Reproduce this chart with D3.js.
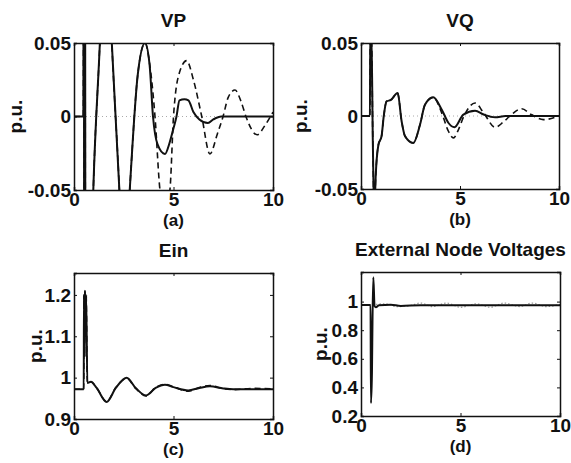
<!DOCTYPE html>
<html lang="en">
<head>
<meta charset="UTF-8">
<title>VP VQ Ein External Node Voltages</title>
<script src="https://d3js.org/d3.v7.min.js"></script>
<style>
  body { margin: 0; background: #fff; }
  text { font-family: "Liberation Sans", Arial, sans-serif; font-weight: bold; fill: #111; }
</style>
</head>
<body>
<script>
// ---- data (time in s, values in p.u.) ----
var xTicks = [0, 5, 10];

// VP: shared start of both traces, then the two endings
var vpStart = [[0,0],[0.47,0],[0.49,0.25],[0.52,-0.25],[0.55,0.25],[0.58,-0.25],[0.7,-0.2],[0.97,-0.05],
  [1.3,0.05],[1.6,0.15],[1.9,0.05],[2.28,-0.05],[2.5,-0.12],[2.8,-0.05],[3.2,0.028],[3.57,0.05]];
var vpSolidEnd = [[3.8,0.035],[3.97,0],[4.2,-0.019],[4.57,-0.0255],[4.8,-0.018],[5.0,-0.008],[5.15,0],
  [5.3,0.011],[5.55,0.0118],[5.75,0.011],[6.0,0.003],[6.3,-0.002],[6.73,-0.0044],[7.0,-0.002],[7.4,0],[10,0]];
var vpDashEnd = [[3.8,0.036],[4.07,0],[4.32,-0.05],[4.57,-0.065],[4.82,-0.05],[5.0,0],[5.3,0.03],[5.66,0.038],
  [6.0,0.025],[6.42,0],[6.83,-0.0255],[7.2,-0.012],[7.49,0],[7.75,0.013],[8.09,0.018],[8.4,0.01],[8.64,0],
  [9.2,-0.0124],[9.6,-0.006],[10,0.003]];

// VQ
var vqStart = [[0,0],[0.45,0],[0.47,0.06],[0.52,0.06],[0.6,-0.02],[0.67,-0.07],[0.72,-0.05],[0.74,-0.042],
  [0.88,-0.0197],[1.04,-0.0137],[1.15,0],[1.29,0.01],[1.51,0.011],[1.85,0.0157],[2.05,-0.0034],[2.22,-0.0137],
  [2.64,-0.0185],[2.98,-0.006],[3.23,0.0077],[3.65,0.0128]];
var vqSolidEnd = [[4.08,0.0043],[4.42,-0.0048],[4.72,-0.0077],[5.17,0.001],[5.76,0.0036],[6.2,0.001],
  [6.77,-0.0009],[7.3,0],[10,0]];
var vqDashEnd = [[4.08,0.002],[4.4,-0.01],[4.67,-0.015],[4.9,-0.01],[5.2,0],[5.76,0.0089],[6.2,0.002],
  [6.77,-0.0077],[7.2,-0.004],[7.6,0.001],[8.12,0.005],[8.6,0.001],[9.21,-0.0025],[10,0]];

// Ein
var einSolid = [[0,0.972],[0.49,0.972],[0.5,1.2],[0.53,1.05],[0.55,1.21],[0.58,1.1],[0.61,1.2],[0.67,0.987],
  [0.85,0.99],[1.14,0.975],[1.64,0.941],[2.1,0.975],[2.65,0.9995],[3.1,0.975],[3.62,0.957],[4.1,0.975],
  [4.57,0.983],[5.0,0.977],[5.74,0.969],[6.3,0.975],[6.83,0.979],[7.5,0.974],[8,0.972],[10,0.972]];
var einDash = [[0,0.972],[0.49,0.972],[0.5,1.2],[0.53,1.05],[0.55,1.21],[0.58,1.1],[0.61,1.2],[0.67,0.987],
  [0.85,0.99],[1.14,0.975],[1.64,0.942],[2.1,0.976],[2.65,0.998],[3.1,0.974],[3.62,0.956],[4.1,0.976],
  [4.57,0.984],[5.0,0.978],[5.74,0.967],[6.3,0.976],[6.83,0.981],[7.5,0.973],[8,0.971],[9,0.974],[10,0.973]];

// External node voltages
var envMain = [[0,0.976],[0.48,0.976],[0.5,0.29],[0.55,0.5],[0.58,0.9],[0.62,1.17],[0.68,0.97],[0.75,0.96],
  [0.9,0.975],[1.5,0.978],[2,0.97],[3,0.975],[10,0.975]];
var envOther = [[0.75,0.98],[1.2,0.985],[1.8,0.965],[2.4,0.97],[3,0.99],[3.6,0.965],[4.3,0.99],[5,0.96],
  [5.8,0.985],[6.5,0.96],[7.2,0.99],[8,0.965],[8.6,0.99],[9.3,0.965],[10,0.98]];

var vTicks = [-0.05, 0, 0.05];
var einTicks = [0.9, 1, 1.1, 1.2];
var envTicks = [0.2, 0.4, 0.6, 0.8, 1];

// ---- drawing ----
var svg = d3.select("body").append("svg").attr("width", 571).attr("height", 463);

// matlab style labels: plain hyphen, no trailing zeros
var fmt = d => String(+d.toFixed(2));

var panels = [
  {id: "a", title: "VP", x0: 74, x1: 273, y0: 43, y1: 190, yDom: [-0.05, 0.05], yTicks: vTicks,
   zero: true, ylabX: 15,
   lines: [{d: vpStart.concat(vpDashEnd), dash: "6,4", w: 1.6}, {d: vpStart.concat(vpSolidEnd), w: 2}]},
  {id: "b", title: "VQ", x0: 361, x1: 559, y0: 43, y1: 189, yDom: [-0.05, 0.05], yTicks: vTicks,
   zero: true, ylabX: 300,
   lines: [{d: vqStart.concat(vqDashEnd), dash: "6,4", w: 1.6}, {d: vqStart.concat(vqSolidEnd), w: 2}]},
  {id: "c", title: "Ein", x0: 74, x1: 273, y0: 273, y1: 419, yDom: [0.9, 1.253], yTicks: einTicks,
   zero: false, ylabX: 35,
   lines: [{d: einDash, dash: "6,4", w: 1.6}, {d: einSolid, w: 2}]},
  {id: "d", title: "External Node Voltages", x0: 361, x1: 560, y0: 272, y1: 416, yDom: [0.2, 1.207], yTicks: envTicks,
   zero: false, ylabX: 320,
   lines: [{d: envOther, dash: "1.5,2", w: 1.2, color: "#999"}, {d: envMain, w: 2}]}
];

panels.forEach(function(p) {
  var x = d3.scaleLinear().domain([0, 10]).range([p.x0, p.x1]);
  var y = d3.scaleLinear().domain(p.yDom).range([p.y1, p.y0]);
  var g = svg.append("g");

  g.append("clipPath").attr("id", "clip-" + p.id)
    .append("rect").attr("x", p.x0).attr("y", p.y0).attr("width", p.x1 - p.x0).attr("height", p.y1 - p.y0);

  // faint dotted zero reference
  if (p.zero) {
    g.append("line")
      .attr("x1", p.x0).attr("x2", p.x1).attr("y1", y(0)).attr("y2", y(0))
      .attr("stroke", "#aaa").attr("stroke-width", 1).attr("stroke-dasharray", "1,3");
  }

  var line = d3.line().x(d => x(d[0])).y(d => y(d[1])).curve(d3.curveMonotoneX);
  p.lines.forEach(function(s) {
    g.append("path")
      .attr("d", line(s.d))
      .attr("clip-path", "url(#clip-" + p.id + ")")
      .attr("fill", "none")
      .attr("stroke", s.color || "#111")
      .attr("stroke-width", s.w)
      .attr("stroke-dasharray", s.dash || null);
  });

  // axes, ticks pointing inward like matlab
  var bottom = g.append("g").attr("transform", "translate(0," + p.y1 + ")")
    .call(d3.axisBottom(x).tickValues(xTicks).tickSize(-3).tickPadding(2).tickFormat(d3.format("d")));
  var left = g.append("g").attr("transform", "translate(" + p.x0 + ",0)")
    .call(d3.axisLeft(y).tickValues(p.yTicks).tickSize(-3).tickPadding(3).tickFormat(fmt));
  g.append("g").attr("transform", "translate(0," + p.y0 + ")")
    .call(d3.axisTop(x).tickValues(xTicks).tickSize(-3).tickFormat(""));
  g.append("g").attr("transform", "translate(" + p.x1 + ",0)")
    .call(d3.axisRight(y).tickValues(p.yTicks).tickSize(-3).tickFormat(""));

  g.selectAll(".domain").attr("stroke", "#111").attr("stroke-width", 1.5);
  g.selectAll(".tick line").attr("stroke", "#111");
  g.selectAll(".tick text").style("font-size", "19px").style("font-family", "'Liberation Sans', Arial, sans-serif")
    .style("font-weight", "bold").attr("fill", "#111");
  bottom.selectAll(".tick text").attr("dy", "0.71em");

  var cx = (p.x0 + p.x1) / 2;
  g.append("text").attr("x", cx).attr("y", p.y0 - 16).attr("text-anchor", "middle")
    .style("font-size", "19px").text(p.title);
  g.append("text").attr("x", cx).attr("y", p.y1 + 36).attr("text-anchor", "middle")
    .style("font-size", "17px").text("(" + p.id + ")");
  g.append("text")
    .attr("transform", "translate(" + (p.ylabX + 7) + "," + ((p.y0 + p.y1) / 2) + ") rotate(-90)")
    .attr("text-anchor", "middle").style("font-size", "19px").text("p.u.");
});
</script>
</body>
</html>
